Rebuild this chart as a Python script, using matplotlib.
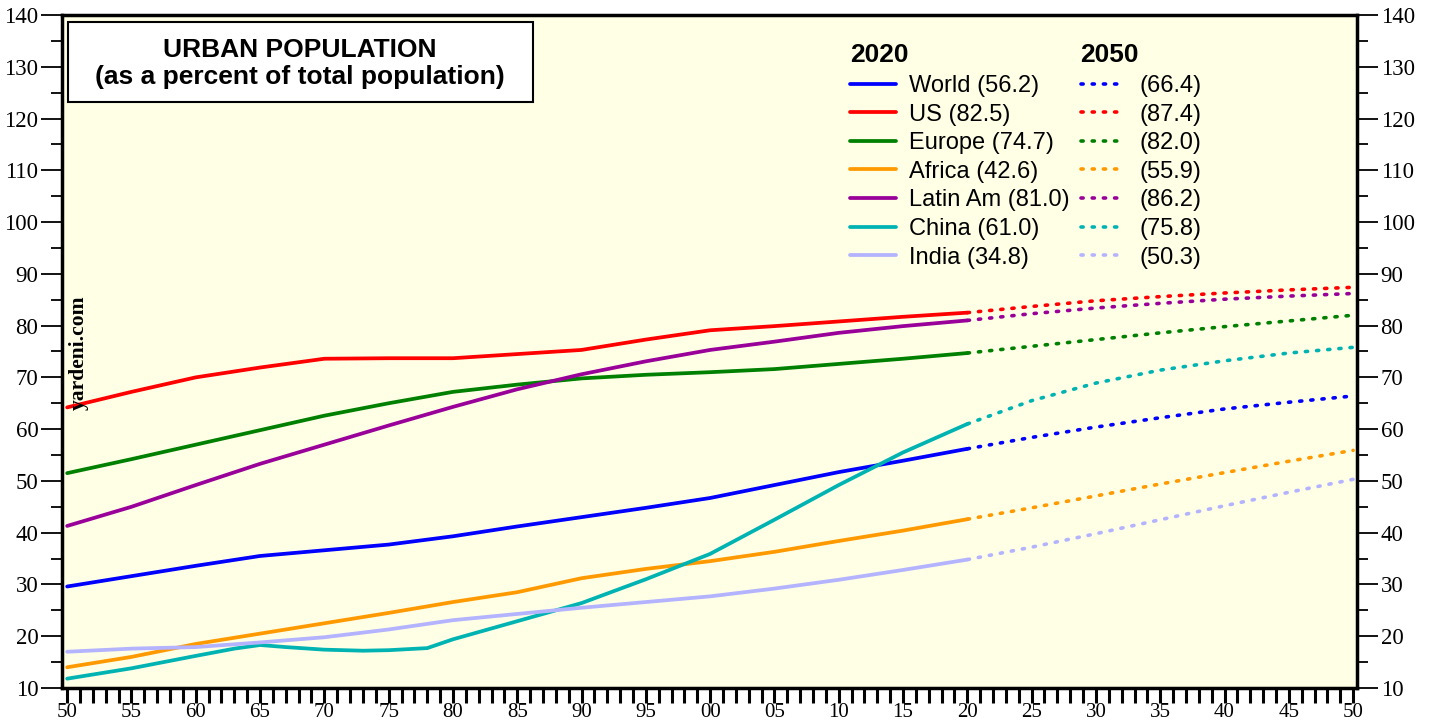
import matplotlib
matplotlib.use("Agg")
import matplotlib.pyplot as plt
from matplotlib.patches import Rectangle
from matplotlib.ticker import MultipleLocator, FuncFormatter

plt.rcParams["font.family"] = "Liberation Serif"

# history 1950-2020 (5-year steps), projection 2020-2050
years = [1950, 1955, 1960, 1965, 1970, 1975, 1980, 1985, 1990, 1995, 2000, 2005, 2010, 2015, 2020]
proj_years = [2020, 2025, 2030, 2035, 2040, 2045, 2050]

world = [29.6, 31.6, 33.6, 35.5, 36.6, 37.7, 39.3, 41.2, 43.0, 44.8, 46.7, 49.2, 51.7, 53.9, 56.2]
us = [64.2, 67.2, 70.0, 71.9, 73.6, 73.7, 73.7, 74.5, 75.3, 77.3, 79.1, 79.9, 80.8, 81.7, 82.5]
europe = [51.5, 54.2, 57.0, 59.8, 62.6, 65.0, 67.2, 68.6, 69.8, 70.5, 71.0, 71.6, 72.6, 73.6, 74.7]
africa = [14.0, 16.0, 18.5, 20.5, 22.5, 24.5, 26.6, 28.5, 31.2, 33.0, 34.5, 36.3, 38.4, 40.4, 42.6]
latin = [41.3, 45.0, 49.2, 53.3, 57.0, 60.7, 64.3, 67.7, 70.6, 73.1, 75.3, 76.9, 78.6, 79.9, 81.0]
india = [17.0, 17.6, 17.9, 18.8, 19.8, 21.3, 23.1, 24.3, 25.5, 26.6, 27.7, 29.2, 30.9, 32.8, 34.8]

# china has a bump in the 60s-70s, so more points there
china_years = [1950, 1955, 1960, 1963, 1965, 1967, 1970, 1973, 1975, 1978, 1980, 1985, 1990, 1995, 2000, 2005, 2010, 2015, 2020]
china = [11.8, 13.8, 16.2, 17.6, 18.3, 17.9, 17.4, 17.2, 17.3, 17.7, 19.4, 22.9, 26.4, 31.0, 35.9, 42.5, 49.2, 55.5, 61.0]

world_p = [56.2, 58.4, 60.4, 62.2, 63.9, 65.2, 66.4]
us_p = [82.5, 83.7, 84.8, 85.6, 86.3, 86.9, 87.4]
europe_p = [74.7, 76.0, 77.3, 78.6, 79.8, 80.9, 82.0]
africa_p = [42.6, 44.8, 47.1, 49.4, 51.6, 53.8, 55.9]
latin_p = [81.0, 82.3, 83.4, 84.3, 85.1, 85.7, 86.2]
china_p = [61.0, 65.5, 68.9, 71.4, 73.2, 74.7, 75.8]
india_p = [34.8, 37.2, 39.8, 42.5, 45.2, 47.8, 50.3]

names = ["World", "US", "Europe", "Africa", "Latin Am", "China", "India"]
colors = ["#0000ff", "#ff0000", "#008000", "#ff9900", "#990099", "#00b3b3", "#b3b3ff"]
hist = [(years, world), (years, us), (years, europe), (years, africa),
        (years, latin), (china_years, china), (years, india)]
proj = [world_p, us_p, europe_p, africa_p, latin_p, china_p, india_p]

fig = plt.figure(figsize=(14.29, 7.21), dpi=100)
ax = fig.add_axes([0.0434, 0.0458, 0.9062, 0.9334])
ax.set_facecolor("#ffffe6")

solid_h = []
dot_h = []
for (xs, ys), yp, c in zip(hist, proj, colors):
    h1, = ax.plot(xs, ys, color=c, lw=2.7, solid_capstyle="round", solid_joinstyle="round")
    h2, = ax.plot(proj_years, yp, color=c, lw=2.6, linestyle=(0, (0.6, 2.5)),
                  dash_capstyle="round")
    solid_h.append(h1)
    dot_h.append(h2)

ax.set_xlim(1949.6, 2050.3)
ax.set_ylim(10, 140)

ax.xaxis.set_major_locator(MultipleLocator(5))
ax.xaxis.set_minor_locator(MultipleLocator(1))
ax.xaxis.set_major_formatter(FuncFormatter(lambda v, p: "%02d" % (int(round(v)) % 100)))
ax.yaxis.set_major_locator(MultipleLocator(10))
ax.yaxis.set_minor_locator(MultipleLocator(5))

ax.tick_params(axis="x", which="both", direction="out", length=11, width=2.2,
               labelsize=15, pad=0)
ax.tick_params(axis="y", which="major", direction="out", length=15, width=1.3,
               labelsize=16.5, right=True, labelright=True, pad=2)
ax.tick_params(axis="y", which="minor", direction="out", length=8, width=1.3, right=True)

for s in ax.spines.values():
    s.set_linewidth(2.5)

# title box
ax.add_patch(Rectangle((0.0046, 0.8707), 0.3591, 0.1189, transform=ax.transAxes,
                       facecolor="white", edgecolor="black", lw=1.5, zorder=3))
ax.text(0.1835, 0.928, "URBAN POPULATION\n(as a percent of total population)",
        transform=ax.transAxes, ha="center", va="center", fontsize=19,
        fontweight="bold", family="Liberation Sans", linespacing=1.17, zorder=4)

# legends: solid = 2020, dotted = 2050
labels20 = ["%s (%.1f)" % (n, s[1][-1]) for n, s in zip(names, hist)]
labels50 = ["(%.1f)" % p[-1] for p in proj]
leg1 = ax.legend(solid_h, labels20, loc="upper left", bbox_to_anchor=(0.6085, 0.911),
                 frameon=False, prop={"family": "Liberation Sans", "size": 17},
                 handlelength=1.95, handletextpad=0.55, labelspacing=0.28,
                 borderaxespad=0, borderpad=0)
ax.add_artist(leg1)
ax.legend(dot_h, labels50, loc="upper left", bbox_to_anchor=(0.7865, 0.911),
          frameon=False, prop={"family": "Liberation Sans", "size": 17},
          handlelength=1.55, handletextpad=0.95, labelspacing=0.28,
          borderaxespad=0, borderpad=0)
ax.text(0.6085, 0.941, "2020", transform=ax.transAxes, fontsize=19, fontweight="bold",
        family="Liberation Sans", va="center", ha="left")
ax.text(0.7865, 0.941, "2050", transform=ax.transAxes, fontsize=19, fontweight="bold",
        family="Liberation Sans", va="center", ha="left")

ax.text(0.0055, 0.413, "yardeni.com", transform=ax.transAxes, rotation=90,
        fontsize=15.5, fontweight="bold", family="Liberation Serif", va="bottom", ha="left")

fig.savefig("out.png", dpi=100, facecolor="white")
